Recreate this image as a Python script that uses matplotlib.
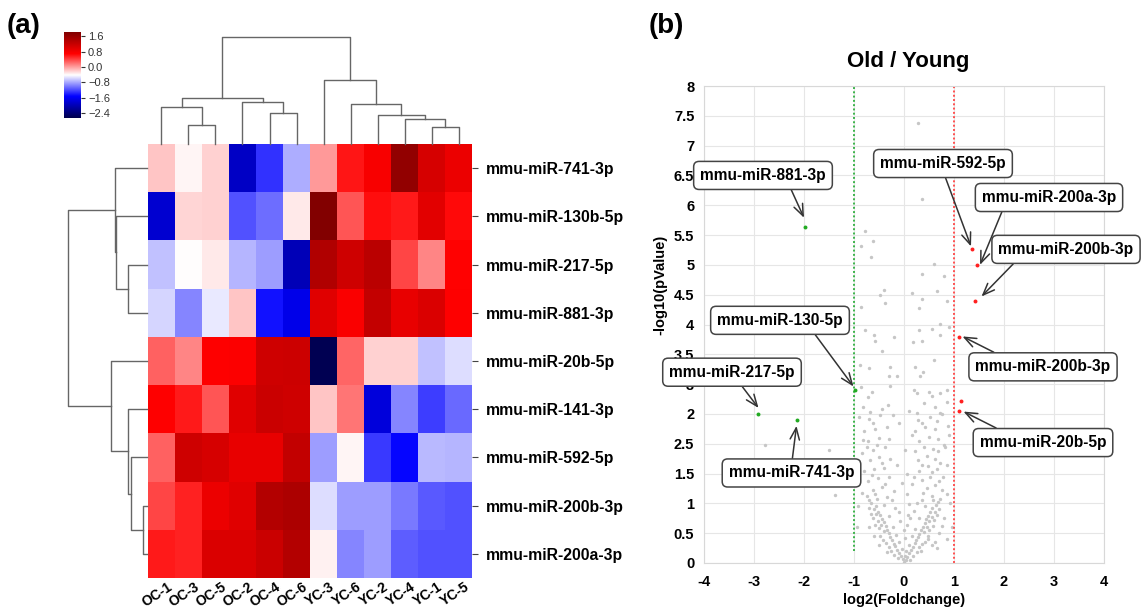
import numpy as np
import matplotlib
matplotlib.use('Agg')
import matplotlib.pyplot as plt
import matplotlib.transforms as mtransforms

plt.rcParams['font.family'] = ['Liberation Sans', 'DejaVu Sans']

# ---------------- data ----------------
col_labels = ['OC-1', 'OC-3', 'OC-5', 'OC-2', 'OC-4', 'OC-6',
              'YC-3', 'YC-6', 'YC-2', 'YC-4', 'YC-1', 'YC-5']
row_labels = ['mmu-miR-741-3p', 'mmu-miR-130b-5p', 'mmu-miR-217-5p',
              'mmu-miR-881-3p', 'mmu-miR-20b-5p', 'mmu-miR-141-3p',
              'mmu-miR-592-5p', 'mmu-miR-200b-3p', 'mmu-miR-200a-3p']

r_741 = [-0.16, -0.37, -0.21, -1.89, -1.31, -0.77, 0.04, 0.61, 0.77, 1.67, 1.07, 0.88]
r_130 = [-1.81, -0.23, -0.20, -1.17, -1.04, -0.32, 1.80, 0.34, 0.65, 0.59, 0.96, 0.67]
r_217 = [-0.68, -0.40, -0.31, -0.73, -0.84, -1.97, 1.40, 1.14, 1.32, 0.40, 0.13, 0.70]
r_881 = [-0.59, -0.95, -0.51, -0.15, -1.45, -1.66, 0.99, 0.75, 1.23, 0.92, 1.03, 0.72]
r_20b = [0.29, 0.12, 0.72, 0.74, 1.14, 1.15, -2.60, 0.26, -0.21, -0.20, -0.68, -0.55]
r_141 = [0.72, 0.59, 0.34, 0.99, 1.18, 1.14, -0.15, 0.20, -1.74, -0.95, -1.26, -1.06]
r_592 = [0.29, 1.14, 1.07, 0.92, 0.92, 1.25, -0.84, -0.37, -1.28, -1.50, -0.71, -0.73]
r_200b = [0.40, 0.57, 0.88, 0.99, 1.36, 1.43, -0.55, -0.84, -0.84, -1.00, -1.14, -1.17]
r_200a = [0.59, 0.57, 1.03, 1.03, 1.18, 1.36, -0.35, -0.95, -0.84, -1.12, -1.17, -1.17]

# dendrogram merges (left node, right node, height); leaves in display order
col_merges = [(1, 2, 0.18), (0, 12, 0.35), (4, 5, 0.29), (3, 14, 0.39),
              (13, 15, 0.43), (10, 11, 0.155), (9, 17, 0.23), (8, 18, 0.27),
              (7, 19, 0.37), (6, 20, 0.60), (16, 21, 1.0)]
row_merges = [(2, 3, 0.24), (1, 9, 0.39), (0, 10, 0.41), (7, 8, 0.05),
              (6, 12, 0.20), (5, 13, 0.24), (4, 14, 0.45), (11, 15, 1.0)]

cbar_ticks = [1.6, 0.8, 0.0, -0.8, -1.6, -2.4]

# volcano plot
gray_pts = [
    (0.00, 0.02), (0.03, 0.05), (-0.03, 0.06), (0.06, 0.10), (-0.07, 0.11), (0.01, 0.12),
    (0.10, 0.16), (-0.11, 0.17), (0.13, 0.21), (-0.14, 0.22), (0.04, 0.20), (-0.05, 0.24),
    (0.17, 0.27), (-0.18, 0.28), (0.21, 0.33), (-0.21, 0.32), (0.09, 0.30), (-0.10, 0.35),
    (0.24, 0.38), (-0.25, 0.39), (0.27, 0.43), (-0.28, 0.44), (0.02, 0.42), (0.16, 0.45),
    (-0.17, 0.47), (0.30, 0.49), (-0.31, 0.50), (0.34, 0.55), (-0.34, 0.56), (0.40, 0.52),
    (-0.40, 0.54), (0.22, 0.57), (-0.22, 0.60), (0.37, 0.61), (-0.37, 0.62), (0.45, 0.60),
    (-0.46, 0.63), (0.41, 0.67), (-0.41, 0.68), (0.06, 0.64), (-0.08, 0.70), (0.44, 0.73),
    (-0.44, 0.74), (0.50, 0.70), (-0.52, 0.71), (0.30, 0.75), (-0.30, 0.78), (0.48, 0.79),
    (-0.48, 0.80), (0.55, 0.77), (-0.56, 0.82), (0.52, 0.85), (-0.52, 0.86), (0.62, 0.86),
    (-0.60, 0.90), (0.20, 0.88), (-0.18, 0.92), (0.56, 0.92), (-0.57, 0.95), (0.42, 0.95),
    (-0.40, 0.97), (0.63, 0.98), (-0.66, 1.00), (0.10, 0.99), (0.55, 0.30), (0.62, 0.35),
    (-0.50, 0.30), (0.70, 0.50), (0.65, 0.25), (-0.60, 0.45), (0.75, 0.62), (-0.70, 0.60),
    (0.85, 0.40), (0.80, 0.75), (-0.95, 0.60), (0.33, 0.20), (-0.35, 0.18), (0.48, 0.40),
    (0.12, 0.05), (-0.12, 0.08), (0.18, 0.12), (-0.20, 0.14), (0.25, 0.18), (-0.26, 0.20),
    (0.30, 0.26), (-0.30, 0.27), (0.36, 0.32), (-0.36, 0.33), (0.42, 0.36), (-0.42, 0.38),
    (0.47, 0.45), (-0.48, 0.46), (0.50, 0.55), (-0.50, 0.58), (0.58, 0.62), (-0.58, 0.64),
    (0.60, 0.72), (-0.62, 0.75), (0.66, 0.80), (-0.66, 0.83), (0.70, 0.90), (-0.70, 0.92),
    (0.72, 1.08), (-0.75, 1.12), (0.00, 0.55), (0.12, 0.75), (-0.10, 0.85), (0.25, 1.00),
    (-0.25, 1.05), (0.05, 1.15), (-0.05, 1.35), (0.20, 1.45), (0.58, 1.05), (-0.58, 1.15),
    (0.38, 1.18), (-0.38, 1.32), (0.78, 1.45), (-0.65, 1.48), (0.55, 1.52), (-0.45, 1.68),
    (0.72, 1.68), (-0.75, 1.95), (0.35, 1.65), (-0.55, 1.98), (0.68, 1.88), (0.15, 2.15),
    (-0.62, 2.35), (0.35, 2.35), (0.10, 2.55), (-0.22, 2.48), (0.65, 2.38), (-0.90, 2.45),
    (0.90, 2.15), (-0.90, 1.40), (0.92, 1.00), (-0.92, 0.95), (0.95, 0.60), (0.08, 0.80),
    (-0.70, 1.05), (-0.55, 1.08), (-0.35, 1.10), (0.35, 1.05), (0.55, 1.12), (0.68, 1.02),
    (0.85, 1.15), (-0.85, 1.18), (-0.62, 1.22), (-0.45, 1.28), (0.45, 1.25), (0.62, 1.30),
    (0.75, 1.22), (-0.20, 1.20), (0.15, 1.32), (-0.72, 1.38), (-0.52, 1.42), (-0.30, 1.45),
    (0.35, 1.40), (0.52, 1.45), (0.70, 1.38), (-0.80, 1.55), (-0.60, 1.58), (-0.40, 1.60),
    (0.30, 1.55), (0.48, 1.62), (0.66, 1.58), (0.85, 1.65), (-0.15, 1.65), (0.05, 1.50),
    (-0.68, 1.72), (-0.50, 1.78), (-0.28, 1.75), (0.28, 1.72), (0.45, 1.80), (0.62, 1.75),
    (-0.85, 1.85), (-0.62, 1.90), (-0.38, 1.95), (0.22, 1.88), (0.40, 1.95), (0.58, 1.92),
    (0.80, 1.98), (0.02, 1.90), (-0.72, 2.05), (-0.50, 2.10), (-0.30, 2.08), (0.30, 2.05),
    (0.50, 2.12), (0.68, 2.08), (-0.80, 2.22), (-0.58, 2.25), (-0.35, 2.28), (0.22, 2.22),
    (0.42, 2.28), (0.62, 2.25), (0.88, 2.30), (-0.10, 2.35), (-0.70, 2.42), (-0.48, 2.48),
    (0.28, 2.40), (0.52, 2.45), (0.75, 2.50), (-0.68, 2.54), (-0.45, 2.58), (0.25, 2.51),
    (0.72, 2.52), (-0.83, 2.06), (0.82, 1.95), (-1.51, 1.89), (-1.38, 1.14), (-2.78, 1.98),
    (-0.82, 2.62), (-0.32, 2.65), (0.40, 2.68), (0.62, 2.62), (0.85, 2.70), (-0.72, 2.78),
    (0.25, 2.85), (0.55, 2.80), (0.85, 2.90), (-0.87, 2.96), (-0.65, 2.87), (-0.28, 2.97),
    (0.19, 2.90), (0.49, 2.87), (0.72, 2.85), (-0.88, 3.32), (-0.71, 3.27), (-0.28, 3.29),
    (0.22, 3.29), (0.37, 3.21), (-0.31, 3.14), (-0.15, 3.13), (0.31, 3.13), (0.60, 3.40),
    (-0.78, 3.91), (-0.61, 3.83), (-0.21, 3.79), (0.29, 3.91), (0.55, 3.93), (0.72, 4.01),
    (0.89, 3.96), (-0.58, 3.73), (0.18, 3.70), (0.35, 3.73), (0.72, 3.83), (-0.45, 3.55),
    (-0.87, 4.30), (-0.38, 4.36), (0.85, 4.39), (0.30, 4.28), (-0.41, 4.58), (-0.49, 4.50),
    (0.15, 4.52), (0.65, 4.57), (0.35, 4.42), (0.35, 4.85), (0.80, 4.81), (0.59, 5.02),
    (-0.67, 5.14), (-0.87, 5.31), (-0.63, 5.40), (-0.78, 5.56), (0.35, 6.11), (0.28, 7.38),
]
green_fc = [-1.99, -2.93, -2.15, -0.99]
green_nlp = [5.64, 2.50, 2.39, 2.90]
red_fc = [1.35, 1.45, 1.41, 1.09, 1.09, 1.14]
red_nlp = [5.26, 4.99, 4.40, 3.79, 2.55, 2.72]

yticks_pos = [0, 0.5, 1, 1.5, 2, 2.5, 3, 3.5, 4, 4.5, 5, 5.5, 6, 6.5, 7, 7.5, 8]
yticks_lab = ['0', '0.5', '1', '1.5', '2.5', '2', '3', '3.5', '4', '4.5', '5', '5.5',
              '6', '6.5', '7', '7.5', '8']
xticks_pos = [-4, -3, -2, -1, 0, 1, 2, 3, 4]

# label text, text position (data), arrow tip (data), arrow start on box (relpos)
annots = [
    ('mmu-miR-881-3p', (-2.82, 6.50), (-2.00, 5.79), (0.70, 0.0)),
    ('mmu-miR-592-5p', (0.78, 6.70), (1.34, 5.31), (0.50, 0.0)),
    ('mmu-miR-200a-3p', (2.90, 6.13), (1.52, 5.00), (0.17, 0.0)),
    ('mmu-miR-200b-3p', (3.24, 5.26), (1.55, 4.47), (0.16, 0.0)),
    ('mmu-miR-200b-3p', (2.78, 3.29), (1.17, 3.80), (0.24, 1.0)),
    ('mmu-miR-20b-5p', (2.78, 2.02), (1.19, 2.54), (0.24, 1.0)),
    ('mmu-miR-130-5p', (-2.48, 4.07), (-1.01, 2.96), (0.74, 0.0)),
    ('mmu-miR-217-5p', (-3.44, 3.20), (-2.91, 2.60), (0.54, 0.0)),
    ('mmu-miR-741-3p', (-2.25, 1.51), (-2.15, 2.30), (0.50, 1.0)),
]

# ---------------- figure ----------------
W, H = 1142, 610
fig = plt.figure(figsize=(W / 100, H / 100), dpi=100)


def rect(x0, y0, x1, y1):
    return [x0 / W, 1 - y1 / H, (x1 - x0) / W, (y1 - y0) / H]


def dendro_segments(merges, n):
    pos = {i: i + 0.5 for i in range(n)}
    hgt = {i: 0.0 for i in range(n)}
    segs = []
    for k, (a, b, h) in enumerate(merges):
        segs.append(([pos[a], pos[a], pos[b], pos[b]], [hgt[a], h, h, hgt[b]]))
        pos[n + k] = (pos[a] + pos[b]) / 2
        hgt[n + k] = h
    return segs


values = np.array([r_741, r_130, r_217, r_881, r_20b, r_141, r_592, r_200b, r_200a])
VMIN, VMAX = -2.65, 1.83

# heatmap
ax_hm = fig.add_axes(rect(148, 144, 472, 578))
mesh = ax_hm.pcolormesh(np.arange(len(col_labels) + 1), np.arange(len(row_labels) + 1),
                        values, cmap='seismic', vmin=VMIN, vmax=VMAX)
ax_hm.set_xlim(0, len(col_labels))
ax_hm.set_ylim(len(row_labels), 0)
ax_hm.yaxis.tick_right()
ax_hm.set_yticks(np.arange(len(row_labels)) + 0.5)
ax_hm.set_yticklabels(row_labels, fontsize=11.3, fontweight='bold')
ax_hm.tick_params(axis='y', length=4, color='#444444', pad=6)
ax_hm.set_xticks(np.arange(len(col_labels)) + 0.5)
ax_hm.set_xticklabels(col_labels, fontsize=10, fontweight='bold', rotation=33,
                      ha='right', va='top', rotation_mode='anchor')
ax_hm.tick_params(axis='x', length=0, pad=1.5)
offset = mtransforms.ScaledTranslation(6 / 100, 0, fig.dpi_scale_trans)
for lab in ax_hm.get_xticklabels():
    lab.set_transform(lab.get_transform() + offset)
for s in ax_hm.spines.values():
    s.set_visible(False)

# column dendrogram
ax_cd = fig.add_axes(rect(148, 37, 472, 144))
for xs, ys in dendro_segments(col_merges, len(col_labels)):
    ax_cd.plot(xs, ys, color='#666666', lw=1.0, clip_on=False)
ax_cd.set_xlim(0, len(col_labels))
ax_cd.set_ylim(0, 1.0)
ax_cd.axis('off')

# row dendrogram
ax_rd = fig.add_axes(rect(68, 144, 147, 578))
for xs, ys in dendro_segments(row_merges, len(row_labels)):
    ax_rd.plot(ys, xs, color='#666666', lw=1.0, clip_on=False)
ax_rd.set_xlim(1.0, 0)
ax_rd.set_ylim(len(row_labels), 0)
ax_rd.axis('off')

# colorbar
ax_cb = fig.add_axes(rect(64, 32, 81, 118))
cb = fig.colorbar(mesh, cax=ax_cb, ticks=cbar_ticks)
cb.ax.set_yticklabels([f'{t:.1f}'.replace('-', '\u2212') for t in cbar_ticks])
cb.ax.tick_params(labelsize=8, length=3, width=0.8, colors='#333333', pad=2)
cb.outline.set_visible(False)

fig.text(7 / W, 1 - 26 / H, '(a)', fontsize=20, fontweight='bold', va='center', ha='left')
fig.text(649 / W, 1 - 26 / H, '(b)', fontsize=20, fontweight='bold', va='center', ha='left')

# volcano
ax_v = fig.add_axes(rect(704, 86, 1104, 563))
ax_v.set_xlim(-4, 4)
ax_v.set_ylim(0, 8)
ax_v.set_xticks(xticks_pos)
ax_v.set_xticklabels([str(v) for v in xticks_pos], fontsize=10.5, fontweight='bold')
ax_v.set_yticks(yticks_pos)
ax_v.set_yticklabels(yticks_lab, fontsize=10.5, fontweight='bold')
ax_v.tick_params(length=0)
ax_v.tick_params(axis='y', pad=7)
ax_v.tick_params(axis='x', pad=9)
ax_v.grid(True, color='#e6e6e6', lw=0.8)
ax_v.set_axisbelow(True)
for s in ax_v.spines.values():
    s.set_color('#d8d8d8')
    s.set_linewidth(0.8)

gx = [p[0] for p in gray_pts]
gy = [p[1] for p in gray_pts]
ax_v.scatter(gx, gy, s=6, c='#c6c6c6', linewidths=0, zorder=2)
ax_v.axvline(-1, ymin=0.025, color='#3cb44b', ls=(0, (1, 1.2)), lw=1.4, zorder=2)
ax_v.axvline(1, color='#ff5050', ls=(0, (1, 1.2)), lw=1.4, zorder=2)
ax_v.scatter(green_fc, green_nlp, s=8, c='#22aa22', linewidths=0, zorder=3)
ax_v.scatter(red_fc, red_nlp, s=8, c='#ff2020', linewidths=0, zorder=3)

for text, xytext, xy, rp in annots:
    ax_v.annotate(text, xy=xy, xytext=xytext, textcoords='data', ha='center', va='center',
                  fontsize=11.2, fontweight='bold', zorder=6, annotation_clip=False,
                  bbox=dict(boxstyle='round,pad=0.42,rounding_size=0.35', fc='white',
                            ec='#444444', lw=1.1),
                  arrowprops=dict(arrowstyle='->,head_length=0.75,head_width=0.3',
                                  color='#333333', lw=1.1, relpos=rp,
                                  shrinkA=0, shrinkB=0))

fig.text(908 / W, 1 - 61 / H, 'Old / Young', fontsize=16, fontweight='bold',
         ha='center', va='center')
fig.text(904 / W, 1 - 600 / H, 'log2(Foldchange)', fontsize=10.5, fontweight='bold',
         ha='center', va='center')
fig.text(660 / W, 1 - 285 / H, '-log10(pValue)', fontsize=10.5, fontweight='bold',
         ha='center', va='center', rotation=90)

fig.savefig('out.png', dpi=100)
